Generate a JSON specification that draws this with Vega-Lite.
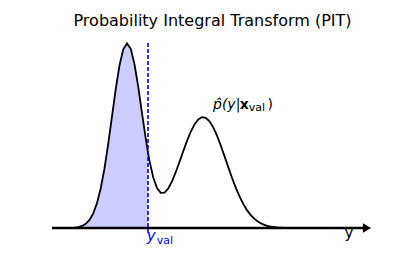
{
  "$schema": "https://vega.github.io/schema/vega-lite/v6.json",
  "width": 321,
  "height": 200,
  "autosize": "none",
  "padding": {"left": 52, "top": 28, "right": 42, "bottom": 49},
  "background": "white",
  "view": {"stroke": null},
  "title": {"text": "Probability Integral Transform (PIT)", "font": "DejaVu Sans", "fontSize": 16, "fontWeight": "normal", "color": "black", "anchor": "middle", "baseline": "alphabetic", "offset": 1, "dy": 15},
  "datasets": {
    "curve": [
      {"x": -5, "d": 0}, {"x": -4.5, "d": 0.00001}, {"x": -4, "d": 0.00007}, {"x": -3.75, "d": 0.00018},
      {"x": -3.5, "d": 0.00044}, {"x": -3.25, "d": 0.00101}, {"x": -3, "d": 0.00221}, {"x": -2.75, "d": 0.00454},
      {"x": -2.5, "d": 0.00874}, {"x": -2.25, "d": 0.01583}, {"x": -2, "d": 0.02693}, {"x": -1.75, "d": 0.04304},
      {"x": -1.5, "d": 0.06461}, {"x": -1.25, "d": 0.09111}, {"x": -1, "d": 0.12075}, {"x": -0.75, "d": 0.15031},
      {"x": -0.5, "d": 0.17578}, {"x": -0.25, "d": 0.19318}, {"x": 0, "d": 0.19951}, {"x": 0.25, "d": 0.19374},
      {"x": 0.5, "d": 0.17703}, {"x": 0.75, "d": 0.15247}, {"x": 1, "d": 0.12424}, {"x": 1.25, "d": 0.09649},
      {"x": 1.4, "d": 0.08152}, {"x": 1.5, "d": 0.07258}, {"x": 1.75, "d": 0.05454}, {"x": 2, "d": 0.04309},
      {"x": 2.25, "d": 0.03793}, {"x": 2.5, "d": 0.03817}, {"x": 2.75, "d": 0.04272}, {"x": 3, "d": 0.05043},
      {"x": 3.25, "d": 0.06031}, {"x": 3.5, "d": 0.07147}, {"x": 3.75, "d": 0.08301}, {"x": 4, "d": 0.09413},
      {"x": 4.25, "d": 0.10402}, {"x": 4.5, "d": 0.11199}, {"x": 4.75, "d": 0.11741}, {"x": 5, "d": 0.11988},
      {"x": 5.25, "d": 0.11918}, {"x": 5.5, "d": 0.11537}, {"x": 5.75, "d": 0.10876}, {"x": 6, "d": 0.09983},
      {"x": 6.25, "d": 0.08923}, {"x": 6.5, "d": 0.07767}, {"x": 6.75, "d": 0.06583}, {"x": 7, "d": 0.05432},
      {"x": 7.25, "d": 0.04365}, {"x": 7.5, "d": 0.03416}, {"x": 7.75, "d": 0.02603}, {"x": 8, "d": 0.01931},
      {"x": 8.25, "d": 0.01395}, {"x": 8.5, "d": 0.00982}, {"x": 8.75, "d": 0.00673}, {"x": 9, "d": 0.00449},
      {"x": 9.25, "d": 0.00291}, {"x": 9.5, "d": 0.00184}, {"x": 9.75, "d": 0.00114}, {"x": 10, "d": 0.00068},
      {"x": 10.5, "d": 0.00023}, {"x": 11, "d": 0.00007}, {"x": 12, "d": 0}, {"x": 16, "d": 0}
    ]
  },
  "layer": [
    {
      "data": {"name": "curve"},
      "transform": [{"filter": {"field": "x", "lte": 1.4}}],
      "mark": {"type": "area", "color": "#ccccff", "opacity": 1, "clip": false},
      "encoding": {
        "x": {"field": "x", "type": "quantitative", "scale": {"domain": [-5, 16.4], "nice": false, "zero": false}, "axis": null},
        "y": {"field": "d", "type": "quantitative", "scale": {"domain": [0, 0.2162], "nice": false, "zero": false}, "axis": null}
      }
    },
    {
      "data": {"name": "curve"},
      "mark": {"type": "line", "color": "black", "strokeWidth": 1.8, "clip": false},
      "encoding": {
        "x": {"field": "x", "type": "quantitative"},
        "y": {"field": "d", "type": "quantitative"}
      }
    },
    {
      "data": {"values": [{"x1": -5, "x2": 15.9, "y": 0}]},
      "mark": {"type": "rule", "color": "black", "strokeWidth": 2.5, "clip": false},
      "encoding": {
        "x": {"field": "x1", "type": "quantitative"},
        "x2": {"field": "x2"},
        "y": {"field": "y", "type": "quantitative"}
      }
    },
    {
      "data": {"values": [{"x": 16.0, "y": 0}]},
      "mark": {"type": "point", "shape": "triangle-right", "filled": true, "color": "black", "opacity": 1, "size": 90, "clip": false},
      "encoding": {
        "x": {"field": "x", "type": "quantitative"},
        "y": {"field": "y", "type": "quantitative"}
      }
    },
    {
      "data": {"values": [{"x": 1.4, "y1": 0.2, "y2": -0.0076}]},
      "mark": {"type": "rule", "color": "#0000ff", "strokeWidth": 1.6, "strokeDash": [4, 2], "clip": false},
      "encoding": {
        "x": {"field": "x", "type": "quantitative"},
        "y": {"field": "y1", "type": "quantitative"},
        "y2": {"field": "y2"}
      }
    },
    {
      "data": {"values": [{"x": 14.8, "y": -0.01135, "t": "y"}]},
      "mark": {"type": "text", "font": "DejaVu Sans", "fontSize": 15, "align": "center", "baseline": "alphabetic", "color": "black", "clip": false},
      "encoding": {
        "x": {"field": "x", "type": "quantitative"},
        "y": {"field": "y", "type": "quantitative"},
        "text": {"field": "t"}
      }
    },
    {
      "data": {"values": [{"x": 1.31, "y": -0.01405, "t": "y"}]},
      "mark": {"type": "text", "font": "DejaVu Sans", "fontStyle": "italic", "fontSize": 15, "align": "left", "baseline": "alphabetic", "color": "#0000ff", "clip": false},
      "encoding": {
        "x": {"field": "x", "type": "quantitative"},
        "y": {"field": "y", "type": "quantitative"},
        "text": {"field": "t"}
      }
    },
    {
      "data": {"values": [{"x": 1.98, "y": -0.0173, "t": "val"}]},
      "mark": {"type": "text", "font": "DejaVu Sans", "fontSize": 11, "align": "left", "baseline": "alphabetic", "color": "#0000ff", "clip": false},
      "encoding": {
        "x": {"field": "x", "type": "quantitative"},
        "y": {"field": "y", "type": "quantitative"},
        "text": {"field": "t"}
      }
    },
    {
      "data": {"values": [{"x": 5.733, "y": 0.1286, "t": "p̂(y|"}]},
      "mark": {"type": "text", "font": "DejaVu Sans", "fontStyle": "italic", "fontSize": 14, "align": "left", "baseline": "alphabetic", "color": "black", "clip": false},
      "encoding": {
        "x": {"field": "x", "type": "quantitative"},
        "y": {"field": "y", "type": "quantitative"},
        "text": {"field": "t"}
      }
    },
    {
      "data": {"values": [{"x": 7.52, "y": 0.1286, "t": "x"}]},
      "mark": {"type": "text", "font": "DejaVu Sans", "fontWeight": "bold", "fontSize": 14, "align": "left", "baseline": "alphabetic", "color": "black", "clip": false},
      "encoding": {
        "x": {"field": "x", "type": "quantitative"},
        "y": {"field": "y", "type": "quantitative"},
        "text": {"field": "t"}
      }
    },
    {
      "data": {"values": [{"x": 8.12, "y": 0.1264, "t": "val"}]},
      "mark": {"type": "text", "font": "DejaVu Sans", "fontSize": 11, "align": "left", "baseline": "alphabetic", "color": "black", "clip": false},
      "encoding": {
        "x": {"field": "x", "type": "quantitative"},
        "y": {"field": "y", "type": "quantitative"},
        "text": {"field": "t"}
      }
    },
    {
      "data": {"values": [{"x": 9.36, "y": 0.1286, "t": ")"}]},
      "mark": {"type": "text", "font": "DejaVu Sans", "fontSize": 14, "align": "left", "baseline": "alphabetic", "color": "black", "clip": false},
      "encoding": {
        "x": {"field": "x", "type": "quantitative"},
        "y": {"field": "y", "type": "quantitative"},
        "text": {"field": "t"}
      }
    }
  ]
}
